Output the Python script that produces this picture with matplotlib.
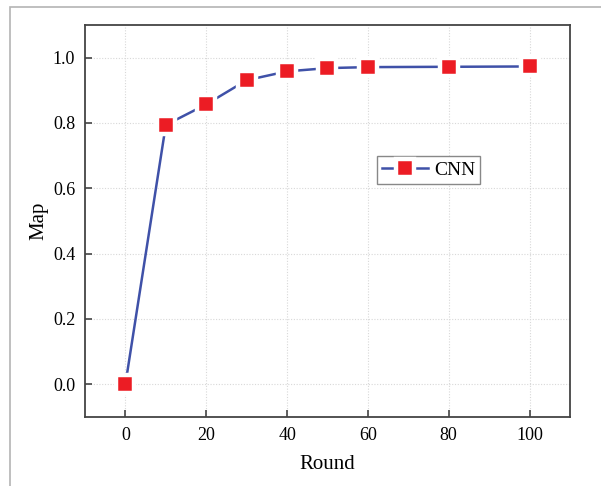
import matplotlib.pyplot as plt
from matplotlib.patches import Rectangle
from matplotlib.ticker import MultipleLocator

plt.rcParams.update({
    "font.family": "serif",
    "font.serif": ["Liberation Serif"],
})

rounds = [0, 10, 20, 30, 40, 50, 60, 80, 100]
cnn_map = [0.0, 0.794, 0.857, 0.931, 0.958, 0.968, 0.971, 0.972, 0.973]

fig = plt.figure(figsize=(6.01, 4.86), dpi=100)
ax = fig.add_axes([0.1414, 0.142, 0.807, 0.8066])

# thin frame around the figure (only left/top edges visible)
fig.patches.append(Rectangle((10/601, -0.2), 1.5, 0.2 + (486-7)/486,
                             transform=fig.transFigure, fill=False,
                             edgecolor='#b4b4b4', linewidth=1.2))

ax.plot(rounds, cnn_map, color='#3f51a8', linewidth=1.8,
        marker='s', markersize=12.8, markerfacecolor='#ec1c24',
        markeredgecolor='white', markeredgewidth=3.2, label='CNN', zorder=3)

ax.set_xlim(-10, 110)
ax.set_ylim(-0.1, 1.1)
ax.xaxis.set_major_locator(MultipleLocator(20))
ax.yaxis.set_major_locator(MultipleLocator(0.2))
ax.yaxis.set_major_formatter('{x:.1f}')
ax.grid(True, linestyle=(0, (1, 1.5)), color='#d8d8d8', linewidth=0.8)
ax.tick_params(direction='in', length=5, width=1.2, color='#444444',
               labelsize=13, pad=7)
for s in ax.spines.values():
    s.set_color('#444444')
    s.set_linewidth(1.3)

ax.set_xlabel('Round', fontsize=15, labelpad=8)
ax.set_ylabel('Map', fontsize=15, labelpad=3)

leg = ax.legend(loc='upper left', bbox_to_anchor=(0.602, 0.665), fontsize=14,
                fancybox=False, edgecolor='#888888', framealpha=1,
                handlelength=2.4, handletextpad=0.3, borderpad=0.25,
                borderaxespad=0)
leg.get_frame().set_linewidth(1.0)

fig.savefig('out.png', dpi=100)
